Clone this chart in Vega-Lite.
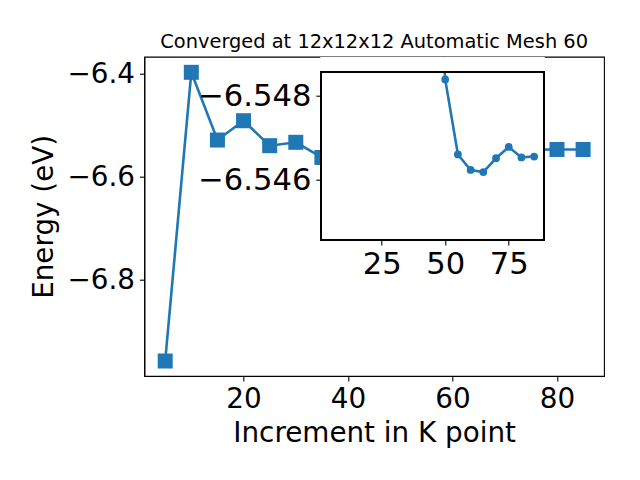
{
  "$schema": "https://vega.github.io/schema/vega-lite/v6.json",
  "autosize": "none",
  "padding": {"left": 144.3, "top": 56.7, "right": 36, "bottom": 104},
  "width": 459.7,
  "height": 319.3,
  "background": "white",
  "title": {"text": "Converged at 12x12x12 Automatic Mesh 60", "fontSize": 19.4, "font": "DejaVu Sans", "fontWeight": "normal", "color": "black", "anchor": "middle", "offset": -10.5, "baseline": "alphabetic"},
  "config": {
    "view": {"stroke": "black", "strokeWidth": 1.1},
    "axis": {"domainColor": "black", "domainWidth": 1.1, "tickColor": "black", "tickWidth": 1.1, "tickSize": 4.9, "labelColor": "black", "titleColor": "black", "grid": false, "labelFont": "DejaVu Sans", "titleFont": "DejaVu Sans", "titleFontWeight": "normal", "labelFontSize": 27.8, "titleFontSize": 27.8, "labelPadding": 4.9, "labelOverlap": false, "labelFlush": false}
  },
  "data": {"values": [
    {"k": 5, "E": -6.9573},
    {"k": 10, "E": -6.3967},
    {"k": 15, "E": -6.5282},
    {"k": 20, "E": -6.4907},
    {"k": 25, "E": -6.5392},
    {"k": 30, "E": -6.5326},
    {"k": 35, "E": -6.5620},
    {"k": 40, "E": -6.5580},
    {"k": 45, "E": -6.5530},
    {"k": 50, "E": -6.54840},
    {"k": 55, "E": -6.54661},
    {"k": 60, "E": -6.54624},
    {"k": 65, "E": -6.54619},
    {"k": 70, "E": -6.54652},
    {"k": 75, "E": -6.54679},
    {"k": 80, "E": -6.54654},
    {"k": 85, "E": -6.54656}
  ]},
  "resolve": {"scale": {"x": "independent", "y": "independent"}, "axis": {"x": "independent", "y": "independent"}},
  "layer": [
    {
      "encoding": {
        "x": {"field": "k", "type": "quantitative", "scale": {"domain": [1, 89], "nice": false, "zero": false},
              "axis": {"orient": "bottom", "values": [20, 40, 60, 80], "title": "Increment in K point", "titlePadding": 6}},
        "y": {"field": "E", "type": "quantitative", "scale": {"domain": [-6.9864, -6.3664], "nice": false, "zero": false},
              "axis": {"orient": "left", "values": [-6.4, -6.6, -6.8], "format": ".1f", "title": "Energy (eV)", "titlePadding": 9}}
      },
      "layer": [
        {"mark": {"type": "line", "color": "#1f77b4", "strokeWidth": 2.6}},
        {"mark": {"type": "square", "color": "#1f77b4", "filled": true, "opacity": 1, "size": 225}}
      ]
    },
    {
      "layer": [
        {
          "mark": {"type": "rect", "fill": "white", "stroke": null},
          "encoding": {
            "x": {"datum": 1, "type": "quantitative", "scale": {"domain": [1, 89], "range": [176.4, 400], "nice": false, "zero": false},
                  "axis": {"orient": "bottom", "offset": -136, "values": [25, 50, 75], "title": null, "zindex": 1, "labelFontSize": 30.6}},
            "x2": {"datum": 89},
            "y": {"datum": -6.54857, "type": "quantitative", "scale": {"domain": [-6.54857, -6.54457], "range": [15.6, 183.3], "nice": false, "zero": false},
                  "axis": {"orient": "left", "offset": -176.4, "values": [-6.548, -6.546], "format": ".3f", "title": null, "zindex": 1, "labelFontSize": 30.6}},
            "y2": {"datum": -6.54457}
          }
        },
        {
          "transform": [{"filter": "datum.k >= 45"}],
          "mark": {"type": "line", "color": "#1f77b4", "strokeWidth": 2.6, "clip": true, "point": {"filled": true, "color": "#1f77b4", "size": 60, "opacity": 1}},
          "encoding": {
            "x": {"field": "k", "type": "quantitative", "scale": {"domain": [1, 89], "range": [176.4, 400], "nice": false, "zero": false},
                  "axis": {"orient": "bottom", "offset": -136, "values": [25, 50, 75], "title": null, "zindex": 1, "labelFontSize": 30.6}},
            "y": {"field": "E", "type": "quantitative", "scale": {"domain": [-6.54857, -6.54457], "range": [15.6, 183.3], "nice": false, "zero": false},
                  "axis": {"orient": "left", "offset": -176.4, "values": [-6.548, -6.546], "format": ".3f", "title": null, "zindex": 1, "labelFontSize": 30.6}}
          }
        },
        {
          "mark": {"type": "rect", "fill": "white", "stroke": null},
          "encoding": {
            "x": {"datum": 1, "type": "quantitative", "scale": {"domain": [1, 89], "range": [176.4, 400], "nice": false, "zero": false},
                  "axis": {"orient": "bottom", "offset": -136, "values": [25, 50, 75], "title": null, "zindex": 1, "labelFontSize": 30.6}},
            "x2": {"datum": 89},
            "y": {"datum": -6.54857, "type": "quantitative", "scale": {"domain": [-6.54857, -6.54457], "range": [15.6, 183.3], "nice": false, "zero": false},
                  "axis": {"orient": "left", "offset": -176.4, "values": [-6.548, -6.546], "format": ".3f", "title": null, "zindex": 1, "labelFontSize": 30.6}},
            "y2": {"datum": -6.548918}
          }
        },
        {
          "mark": {"type": "rect", "fill": null, "fillOpacity": 0, "stroke": "black", "strokeWidth": 1.1},
          "encoding": {
            "x": {"datum": 1, "type": "quantitative", "scale": {"domain": [1, 89], "range": [176.4, 400], "nice": false, "zero": false},
                  "axis": {"orient": "bottom", "offset": -136, "values": [25, 50, 75], "title": null, "zindex": 1, "labelFontSize": 30.6}},
            "x2": {"datum": 89},
            "y": {"datum": -6.54857, "type": "quantitative", "scale": {"domain": [-6.54857, -6.54457], "range": [15.6, 183.3], "nice": false, "zero": false},
                  "axis": {"orient": "left", "offset": -176.4, "values": [-6.548, -6.546], "format": ".3f", "title": null, "zindex": 1, "labelFontSize": 30.6}},
            "y2": {"datum": -6.54457}
          }
        }
      ]
    }
  ]
}
